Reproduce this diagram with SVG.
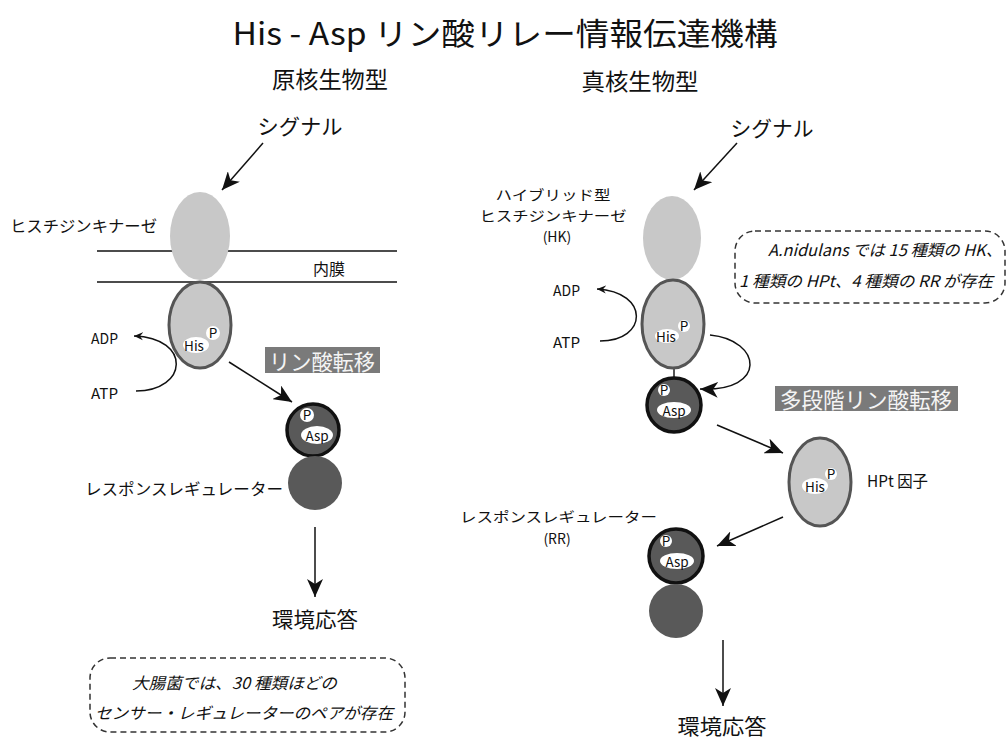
<svg xmlns="http://www.w3.org/2000/svg" width="1008" height="742" viewBox="0 0 1008 742">
<style>
text{font-family:"Noto Sans CJK JP","Noto Sans",sans-serif;fill:#111;dominant-baseline:central}
.ttl{font-size:31px}
.hd{font-size:23px}
.sig{font-size:21px}
.lb{font-size:16px}
.lb2{font-size:14px}
.sm{font-size:15px}
.res{font-size:21px}
.box{font-size:16px;font-style:italic}
.lbl{font-size:22px;fill:#f4f4f4}
.mk{font-size:13.5px;fill:#111}
.hk{fill:#c8c8c8}
.his{fill:#c8c8c8;stroke:#555;stroke-width:3}
.asp{fill:#595959;stroke:#111;stroke-width:3.5}
.rr{fill:#595959}
.blob{fill:#fff}
.ln{stroke:#111;stroke-width:1.5;fill:none}
.dash{fill:none;stroke:#333;stroke-width:1.5;stroke-dasharray:6 4}
.gbox{fill:#7a7a7a}
</style>
<defs>
<marker id="big" markerUnits="userSpaceOnUse" markerWidth="20" markerHeight="16" refX="18" refY="8" orient="auto">
<path d="M0,0 L18,8 L0,16 L5,8 z" fill="#111"/>
</marker>
<marker id="small" markerUnits="userSpaceOnUse" markerWidth="10" markerHeight="10" refX="9" refY="5" orient="auto">
<path d="M0,1 L9,5 L0,9 L3,5 z" fill="#111"/>
</marker>
</defs>
<rect width="1008" height="742" fill="#fff"/>

<g id="titles">
<text class="ttl" x="505" y="31" text-anchor="middle" textLength="545" lengthAdjust="spacingAndGlyphs">His - Asp リン酸リレー情報伝達機構</text>
<text class="hd" x="330" y="78" text-anchor="middle" textLength="116" lengthAdjust="spacingAndGlyphs">原核生物型</text>
<text class="hd" x="640" y="80" text-anchor="middle" textLength="117" lengthAdjust="spacingAndGlyphs">真核生物型</text>
</g>

<g id="connectors">
<line class="ln" x1="97" y1="251" x2="397" y2="251"/>
<line class="ln" x1="97" y1="282" x2="397" y2="282"/>
<line class="ln" x1="263" y1="143" x2="222" y2="190" marker-end="url(#big)"/>
<path class="ln" d="M136,391 C188,391 192,338 134,336" marker-end="url(#small)"/>
<line class="ln" x1="229" y1="362" x2="292" y2="402" marker-end="url(#big)"/>
<line class="ln" x1="315" y1="527" x2="315" y2="597" marker-end="url(#big)"/>
<line class="ln" x1="737" y1="143" x2="694" y2="190" marker-end="url(#big)"/>
<path class="ln" d="M600,341 C648,341 650,292 597,289" marker-end="url(#small)"/>
<line x1="674" y1="367" x2="674" y2="379" stroke="#555" stroke-width="2"/>
<path class="ln" d="M710,335 C762,340 768,392 700,389" marker-end="url(#big)"/>
<line class="ln" x1="717" y1="425" x2="783" y2="453" marker-end="url(#big)"/>
<line class="ln" x1="783" y1="517" x2="717" y2="546" marker-end="url(#big)"/>
<line class="ln" x1="723" y1="640" x2="723" y2="706" marker-end="url(#big)"/>
</g>

<g id="signal-left"><text class="sig" x="300" y="125" text-anchor="middle" textLength="85" lengthAdjust="spacingAndGlyphs">シグナル</text></g>
<g id="signal-right"><text class="sig" x="772" y="127" text-anchor="middle" textLength="83" lengthAdjust="spacingAndGlyphs">シグナル</text></g>

<g id="hk-left">
<ellipse class="hk" cx="200" cy="236" rx="30" ry="44"/>
<text class="lb" x="10" y="225" textLength="147" lengthAdjust="spacingAndGlyphs">ヒスチジンキナーゼ</text>
</g>
<g id="membrane-label"><text class="lb" x="313" y="268" textLength="32" lengthAdjust="spacingAndGlyphs">内膜</text></g>

<g id="his-left">
<ellipse class="his" cx="200" cy="325" rx="31" ry="43"/>
<ellipse class="blob" cx="196" cy="345" rx="13" ry="8"/>
<circle class="blob" cx="213" cy="333" r="7"/>
<text class="mk" x="194" y="345" text-anchor="middle">His</text>
<text class="mk" x="213" y="332" text-anchor="middle">P</text>
</g>
<g id="adp-left"><text class="sm" x="91" y="337" textLength="27" lengthAdjust="spacingAndGlyphs">ADP</text></g>
<g id="atp-left"><text class="sm" x="91" y="392" textLength="27" lengthAdjust="spacingAndGlyphs">ATP</text></g>

<g id="label-left">
<rect class="gbox" x="265" y="347" width="115" height="26"/>
<text class="lbl" x="322" y="360" text-anchor="middle" textLength="106" lengthAdjust="spacingAndGlyphs">リン酸転移</text>
</g>

<g id="asp-left">
<circle class="asp" cx="313" cy="430" r="26"/>
<ellipse class="blob" cx="317" cy="435" rx="16" ry="9"/>
<circle class="blob" cx="307" cy="415" r="7"/>
<text class="mk" x="307" y="414" text-anchor="middle">P</text>
<text class="mk" x="317" y="435" text-anchor="middle">Asp</text>
</g>
<g id="rr-left">
<circle class="rr" cx="315" cy="483" r="27"/>
<text class="lb" x="85" y="488" textLength="198" lengthAdjust="spacingAndGlyphs">レスポンスレギュレーター</text>
</g>
<g id="resp-left"><text class="res" x="315" y="618" text-anchor="middle" textLength="86" lengthAdjust="spacingAndGlyphs">環境応答</text></g>

<g id="note-left">
<rect class="dash" x="90" y="658" width="315" height="74" rx="20"/>
<text class="box" x="132" y="682" textLength="205" lengthAdjust="spacingAndGlyphs">大腸菌では、30 種類ほどの</text>
<text class="box" x="95" y="712" textLength="298" lengthAdjust="spacingAndGlyphs">センサー・レギュレーターのペアが存在</text>
</g>

<g id="hk-right">
<ellipse class="hk" cx="672" cy="238" rx="29" ry="42"/>
<text class="lb2" x="553" y="194" text-anchor="middle" textLength="115" lengthAdjust="spacingAndGlyphs">ハイブリッド型</text>
<text class="lb2" x="553" y="215" text-anchor="middle" textLength="147" lengthAdjust="spacingAndGlyphs">ヒスチジンキナーゼ</text>
<text class="lb2" x="557" y="236" text-anchor="middle">(HK)</text>
</g>

<g id="note-right">
<rect class="dash" x="735" y="231" width="270" height="72" rx="20"/>
<text class="box" x="768" y="249" textLength="234" lengthAdjust="spacingAndGlyphs">A.nidulans では 15 種類の HK、</text>
<text class="box" x="739" y="280" textLength="254" lengthAdjust="spacingAndGlyphs">1 種類の HPt、4 種類の RR が存在</text>
</g>

<g id="his-right">
<ellipse class="his" cx="673" cy="324" rx="31" ry="44"/>
<ellipse class="blob" cx="667" cy="336" rx="12" ry="7"/>
<circle class="blob" cx="684" cy="326" r="6"/>
<text class="mk" x="666" y="336" text-anchor="middle">His</text>
<text class="mk" x="684" y="325" text-anchor="middle">P</text>
</g>
<g id="adp-right"><text class="sm" x="553" y="289" textLength="27" lengthAdjust="spacingAndGlyphs">ADP</text></g>
<g id="atp-right"><text class="sm" x="553" y="341" textLength="27" lengthAdjust="spacingAndGlyphs">ATP</text></g>

<g id="asp-right">
<circle class="asp" cx="674" cy="405" r="27"/>
<ellipse class="blob" cx="674" cy="410" rx="17" ry="8"/>
<circle class="blob" cx="664" cy="390" r="6"/>
<text class="mk" x="664" y="389" text-anchor="middle">P</text>
<text class="mk" x="674" y="410" text-anchor="middle">Asp</text>
</g>

<g id="label-right">
<rect class="gbox" x="775" y="386" width="183" height="25"/>
<text class="lbl" x="866" y="398" text-anchor="middle" textLength="172" lengthAdjust="spacingAndGlyphs">多段階リン酸転移</text>
</g>

<g id="hpt">
<ellipse class="his" cx="820" cy="482" rx="31" ry="44"/>
<ellipse class="blob" cx="815" cy="486" rx="13" ry="8"/>
<circle class="blob" cx="831" cy="474" r="6"/>
<text class="mk" x="815" y="486" text-anchor="middle">His</text>
<text class="mk" x="831" y="473" text-anchor="middle">P</text>
<text class="lb" x="867" y="480" textLength="61" lengthAdjust="spacingAndGlyphs">HPt 因子</text>
</g>

<g id="rr-right-label">
<text class="lb2" x="460" y="516" textLength="197" lengthAdjust="spacingAndGlyphs">レスポンスレギュレーター</text>
<text class="lb2" x="557" y="538" text-anchor="middle">(RR)</text>
</g>
<g id="asp-right2">
<circle class="asp" cx="676" cy="556" r="27"/>
<ellipse class="blob" cx="677" cy="561" rx="17" ry="8"/>
<circle class="blob" cx="666" cy="541" r="6"/>
<text class="mk" x="666" y="540" text-anchor="middle">P</text>
<text class="mk" x="677" y="561" text-anchor="middle">Asp</text>
</g>
<g id="rr-right"><circle class="rr" cx="676" cy="611" r="27"/></g>
<g id="resp-right"><text class="res" x="722" y="725" text-anchor="middle" textLength="89" lengthAdjust="spacingAndGlyphs">環境応答</text></g>
</svg>
